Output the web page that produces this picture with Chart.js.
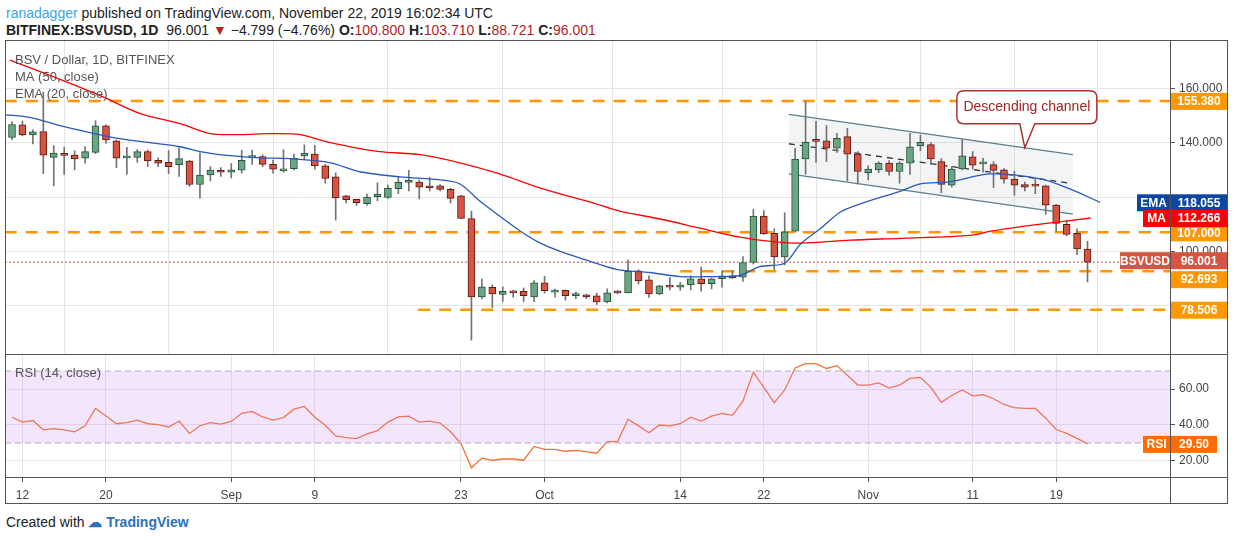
<!DOCTYPE html>
<html>
<head>
<meta charset="utf-8">
<script src="https://cdn.jsdelivr.net/npm/chart.js@4"></script>
<style>
  body { margin: 0; background: #fff; width: 1234px; height: 540px; position: relative; overflow: hidden;
         font-family: "Liberation Sans Narrow", "Liberation Sans", Arial, sans-serif; }
  .abs { position: absolute; }
  #head1 { left: 6px; top: 5px; font-size: 14px; color: #222; }
  #head2 { left: 6px; top: 22px; font-size: 14px; color: #222; }
  #head2 b { font-weight: bold; }
  .r { color: #b21f1f; }
  .frame { position: absolute; border: 1px solid #555; box-sizing: border-box; }
  #foot { left: 6px; top: 514px; font-size: 14px; color: #222; }
  #foot span { color: #2a72b8; font-weight: bold; }
</style>
</head>
<body>
<div id="head1" class="abs"><span style="color:#3ea4e0">ranadagger</span> published on TradingView.com, November 22, 2019 16:02:34 UTC</div>
<div id="head2" class="abs"><b>BITFINEX:BSVUSD, 1D</b>&nbsp; 96.001 <span class="r">▼</span> −4.799 (−4.76%) <b>O:</b><span class="r">100.800</span> <b>H:</b><span class="r">103.710</span> <b>L:</b><span class="r">88.721</span> <b>C:</b><span class="r">96.001</span></div>

<div class="abs" style="left:0;top:40px;width:1234px;height:314px"><canvas id="price" width="1234" height="314"></canvas></div>
<div class="abs" style="left:0;top:355px;width:1234px;height:150px"><canvas id="rsi" width="1234" height="150"></canvas></div>

<div class="frame" style="left:5px;top:40px;width:1223px;height:464px"></div>
<div class="frame" style="left:5px;top:354px;width:1223px;height:1px;border-width:1px 0 0 0"></div>
<div class="frame" style="left:5px;top:477px;width:1223px;height:1px;border-width:1px 0 0 0"></div>
<div class="frame" style="left:1170px;top:40px;width:1px;height:464px;border-width:0 0 0 1px"></div>

<div id="foot" class="abs">Created with <span>☁ TradingView</span></div>

<script>
// day index 0 = Aug 11 2019
const opens  = [141.9,146.6,142.9,144.1,134.6,135.8,135.4,134.3,136.4,146.2,140.7,134.4,134.6,136.7,133.5,132.8,131.9,133.2,124.6,128.1,129.8,129.1,129.9,134.5,134.9,132,129.6,130.4,135.1,135.8,131.5,127.4,120.4,119.1,117.5,120.1,119.8,123.1,125.4,125.5,123.8,124.1,122.8,120.4,112.1,83.2,86.7,84.1,85.3,85.3,83.2,88.4,85,85.6,83.7,84,83.6,81.4,85.1,84.7,92.8,89.5,84.3,87.2,86.8,87.7,89.9,88.1,89.9,91,90.5,95.9,113,106.6,97.9,107.4,134,140.9,140.7,138,142.2,135.8,129,130,132.5,129.4,132.5,138.8,139.3,133,124.4,130.3,134.8,132.2,131.9,130,126.6,124.6,124.6,124.1,117,109.9,106.6,100.8];
const highs  = [147.8,148,144.7,158.6,138.9,138.3,137,138.6,148.1,146.6,141,138.3,137.5,137.3,134.4,137.1,138.1,133.5,136.3,131.2,130.8,132.3,137.2,137.2,135.5,133.6,137.4,135.8,139.2,139,132,128.9,120.6,119.1,121.1,125.2,124.4,127.5,129.8,126.3,127.2,124.6,123.2,120.6,114.8,89.8,87.7,86.9,85.7,86.5,89.2,90.8,86.1,85.8,85,84.2,84.6,86.2,85.5,96.9,93.2,91,87.5,90.3,88.6,91,94.2,90.2,92.8,92.8,98.1,115.4,115,108.3,114.2,137.9,155.2,147.9,146.3,143.4,145.3,136.7,131.5,133,133.4,133,143.4,142.8,140,134.2,131.2,141.2,136.7,134.2,133,130.5,129.4,125.5,126.6,124.4,117.3,111.3,108.3,103.71];
const lows   = [141.1,142.5,139.5,128.6,124.1,128.3,130,132.5,136,139.7,130.8,128.3,132.8,131.2,131.2,128.6,127.6,123.9,119.6,125.9,127.6,127,128.8,132,131.2,128.8,129.1,130,133.8,130.2,125.1,111.5,117.8,116.9,117,118.6,119.5,121.2,122.2,119.3,122.2,122.2,117.8,112,67.3,82.5,79.3,81.5,83.1,81.5,81.5,84.6,83.1,82,82.6,82.6,80.4,81,84.4,84.7,87.9,83,84,85.8,85.6,85.8,85.3,86.2,86.8,90,88.9,95.3,106.2,93.3,95,107,128.4,132.7,133,136.4,125.9,124.8,126.3,129,128,125.1,128.3,137,132,121.6,123.7,130,130.3,129.1,123.5,125.1,120.6,122.2,121.2,113.6,107.3,105.7,98.8,88.721];
const closes = [146.7,142.9,144,135.4,136.2,135.3,134,136.7,146.2,141,134.3,134.8,136.7,133.3,132.5,131.2,134.1,124.6,128.1,129.9,129.1,130,133.5,134.9,132,130.2,130.2,134.3,136.2,131.4,126.8,119.7,119,117.9,120,121.1,123.2,125.4,125.7,123.6,123.4,122.8,119.5,112.1,83.2,86.9,84.3,85.3,84.7,83.7,88.4,85.5,85.6,83.7,84,83.2,81.4,84.7,84.7,92.6,89.1,84.3,87.3,86.8,87.6,89.9,88.1,89.9,91,90.2,95.9,113,106.4,97.9,107.2,134,140.1,140.5,138,141.6,135.8,129.4,130.3,132.5,129.4,132.5,138.5,140.1,134,124.6,130.3,135.2,131.7,132.6,129.8,126.6,124.4,123.6,124,117,110.3,106.2,100.9,96.001];
const rsi = [44.3,41.6,42.5,37.3,38,37.3,36.2,39.6,49.2,45,40.7,41.3,42.7,40.7,40.2,38.9,42.2,35.3,39.6,41.3,40.5,42,46.5,47.6,44.5,42.7,44.1,48.8,50.3,44.3,39.8,33.9,33,32.4,35.1,36.9,41.6,44.5,44.9,41.6,42.2,41.1,36.2,29.7,16.2,21.6,20.4,21.1,21.1,20.4,28.1,26.5,26.5,25.4,25.9,25.2,24.3,30.8,30.8,43.2,39.5,35.7,40,39.5,40.7,44.3,42.2,44.9,46.5,45.4,53.2,69.4,60.9,52.4,59.5,71.7,74.1,74.1,71.4,73,67.7,62.2,62.2,63.4,60.5,62.2,65.9,66.5,60.9,52.6,56.4,59.5,56.2,56.8,54.6,51.4,49.7,49.2,49.2,43.8,37.5,35.3,32.6,29.5];

// moving averages at sample days
const maDays  = [-0.2,4.6,8.4,12.3,16.1,19,21.8,24.7,27.6,29.8,31.9,35.2,39.1,42.9,46.7,50.6,55.4,58.2,62.1,65.9,69.7,72.6,75.5,80.3,85.1,91.8,93.7,98.5,103.3];
const maVals  = [170.4,163.3,157.4,150.7,147,143.3,143,143.3,143,140.7,138.9,136.7,135.6,132.6,128.5,123.3,118.1,114.8,111.9,108.5,105.2,103.7,103,104.1,104.8,105.9,107.4,110,112.266];
const emaDays = [-1.1,1.7,4.6,7.5,10.3,13.2,16.1,18,20.9,23.8,26.6,30.5,33.3,37.2,41,42.9,44.8,46.7,48.7,50.6,52.5,55.4,58,61.1,64,66.9,69.7,71.6,74,75.5,77.4,79.3,81.2,85.1,87,89.8,93.7,98.5,101.3,104.2];
const emaVals = [150.4,149.3,146.3,143.7,141.5,140,138.5,136.7,135.2,134.4,134.1,132.6,129.3,127.4,126.3,124.8,118.5,113,107.4,103,100,96.3,93.3,92.2,90.7,90.7,91.1,94.4,95.6,102.6,108.3,114.4,117.4,122.2,124.8,125.6,128.5,126.7,123,118.055];

const levels      = [155.38, 107.0, 92.693, 78.506];
const levelStarts = [-0.7, -0.7, 64, 38.9];
const lastPrice = 96.001;
const channelDays  = [74.4, 101.6];
const channelUpper = [150.4, 135.6];
const channelLower = [128.5, 113.7];
const channelMid   = [139.6, 125.2];
const midDays      = [74.4, 101.1];

const tickDays   = [1, 9, 21, 29, 43, 51, 64, 72, 82, 92, 100];
const tickLabels = ['12', '20', 'Sep', '9', '23', 'Oct', '14', '22', 'Nov', '11', '19'];
const xMin = -0.67, xMax = 110.9;

const UP = '#6ba583', UPB = '#225437', DN = '#d75442', DNB = '#5b1a13';
const ORANGE = '#ff9800';

const idx = opens.map((_, i) => i);
const isUp = idx.map(i => closes[i] >= opens[i]);
const pts = (xs, ys) => xs.map((x, i) => ({ x: x, y: ys[i] }));
const flat = (a, b, v) => [{ x: a, y: v }, { x: b, y: v }];

function tag(ctx, x, y, w, text, bg) {
  ctx.fillStyle = bg;
  ctx.fillRect(x, y - 8, w, 17);
  ctx.fillStyle = '#fff';
  ctx.font = 'bold 12px "Liberation Sans", Arial';
  ctx.textAlign = 'center';
  ctx.textBaseline = 'middle';
  ctx.fillText(text, x + w / 2, y + 1);
}

const priceOverlay = {
  id: 'priceOverlay',
  afterDraw(chart) {
    const ctx = chart.ctx, y = chart.scales.y, x = chart.scales.x;
    ctx.save();
    ctx.font = '13px "Liberation Sans", Arial';
    ctx.fillStyle = '#555';
    ctx.textAlign = 'left';
    ctx.textBaseline = 'middle';
    ctx.fillText('BSV / Dollar, 1D, BITFINEX', 15, 20);
    ctx.fillText('MA (50, close)', 15, 37);
    ctx.fillText('EMA (20, close)', 15, 54);
    // callout
    const px = x.getPixelForValue(97), py = y.getPixelForValue(138.1);
    const bx = px - 68, by = py - 57, bw = 140, bh = 33;
    ctx.beginPath();
    const r = 7;
    ctx.moveTo(bx + r, by);
    ctx.lineTo(bx + bw - r, by); ctx.quadraticCurveTo(bx + bw, by, bx + bw, by + r);
    ctx.lineTo(bx + bw, by + bh - r); ctx.quadraticCurveTo(bx + bw, by + bh, bx + bw - r, by + bh);
    ctx.lineTo(px + 10, by + bh); ctx.lineTo(px, py); ctx.lineTo(px - 5, by + bh);
    ctx.lineTo(bx + r, by + bh); ctx.quadraticCurveTo(bx, by + bh, bx, by + bh - r);
    ctx.lineTo(bx, by + r); ctx.quadraticCurveTo(bx, by, bx + r, by);
    ctx.closePath();
    ctx.fillStyle = '#fff'; ctx.fill();
    ctx.strokeStyle = '#a83232'; ctx.lineWidth = 1.5; ctx.stroke();
    ctx.fillStyle = '#a32424';
    ctx.font = '14px "Liberation Sans", Arial';
    ctx.textAlign = 'center';
    ctx.fillText('Descending channel', bx + bw / 2, by + bh / 2);
    // axis tags (92.693 nudged down so it clears the last-price tag)
    const ax = 1171, aw = 56;
    levels.forEach(v => tag(ctx, ax, y.getPixelForValue(v) + (v === 92.693 ? 8 : 0), aw, v.toFixed(3), ORANGE));
    tag(ctx, ax, y.getPixelForValue(118.055), aw, '118.055', '#0d47a1');
    tag(ctx, 1137, y.getPixelForValue(118.055), 33, 'EMA', '#0d47a1');
    tag(ctx, ax, y.getPixelForValue(112.266), aw, '112.266', '#ff0000');
    tag(ctx, 1143, y.getPixelForValue(112.266), 27, 'MA', '#ff0000');
    tag(ctx, ax, y.getPixelForValue(lastPrice) - 2, aw, lastPrice.toFixed(3), DN);
    tag(ctx, 1120, y.getPixelForValue(lastPrice) - 2, 50, 'BSVUSD', DN);
    ctx.restore();
  }
};

const rsiOverlay = {
  id: 'rsiOverlay',
  afterDraw(chart) {
    const ctx = chart.ctx, y = chart.scales.y;
    ctx.save();
    ctx.font = '13px "Liberation Sans", Arial';
    ctx.fillStyle = '#555';
    ctx.textAlign = 'left';
    ctx.textBaseline = 'middle';
    ctx.fillText('RSI (14, close)', 15, 18);
    tag(ctx, 1171, y.getPixelForValue(29.5), 46, '29.50', '#ff6d00');
    tag(ctx, 1143, y.getPixelForValue(29.5), 27, 'RSI', '#ff6d00');
    ctx.restore();
  }
};

const xScale = (showTicks) => ({
  type: 'linear', min: xMin, max: xMax, offset: false,
  afterBuildTicks: s => { s.ticks = tickDays.map(v => ({ value: v })); },
  afterFit: s => { s.height = showTicks ? 28 : 0; s.paddingLeft = 0; s.paddingRight = 0; },
  ticks: {
    display: showTicks, color: '#444', font: { size: 12, family: '"Liberation Sans", Arial' },
    autoSkip: false, maxRotation: 0, padding: 6,
    callback: v => tickLabels[tickDays.indexOf(v)]
  },
  grid: { color: '#e6e6e6', drawTicks: showTicks, tickLength: 5, tickColor: '#555' },
  border: { display: false }
});

const yScale = (min, max, tickVals, fmt, hidden) => ({
  position: 'right', min: min, max: max,
  afterBuildTicks: s => { s.ticks = tickVals.map(v => ({ value: v })); },
  afterFit: s => { s.width = 64; s.paddingTop = 0; s.paddingBottom = 0; },
  ticks: {
    color: '#444', font: { size: 12, family: '"Liberation Sans", Arial' }, padding: 4,
    callback: v => hidden.includes(v) ? '' : fmt(v)
  },
  grid: { color: '#e6e6e6', tickLength: 5, tickColor: '#555' },
  border: { display: false }
});

const line = (data, color, extra) => Object.assign({
  type: 'line', data: data, borderColor: color, borderWidth: 1.3, pointRadius: 0, fill: false, tension: 0.3
}, extra || {});

new Chart(document.getElementById('price'), {
  type: 'bar',
  data: {
    datasets: [
      line(pts(channelDays, channelUpper), '#5b7f8a', { fill: '+1', backgroundColor: 'rgba(120,135,160,0.09)', order: 10, tension: 0 }),
      line(pts(channelDays, channelLower), '#5b7f8a', { order: 10, tension: 0 }),
      line(pts(midDays, channelMid), '#333', { borderDash: [6, 5], order: 9, tension: 0 }),
      ...levels.map((v, i) => line(flat(levelStarts[i], xMax, v), ORANGE, { borderWidth: 2.5, borderDash: [12, 9], order: 8, tension: 0 })),
      line(flat(xMin, xMax, lastPrice), DN, { borderWidth: 1, borderDash: [2, 2], order: 8, tension: 0 }),
      {
        data: idx.map(i => ({ x: i, y: [lows[i], highs[i]] })),
        backgroundColor: '#737375', barThickness: 1, grouped: false, order: 4
      },
      {
        data: idx.map(i => ({ x: i, y: [opens[i], closes[i]] })),
        backgroundColor: idx.map(i => isUp[i] ? UP : DN),
        borderColor: idx.map(i => isUp[i] ? UPB : DNB),
        borderWidth: 1, borderSkipped: false, barThickness: 7, minBarLength: 2, grouped: false, order: 3
      },
      line(pts(maDays, maVals), '#ff0000', { order: 1 }),
      line(pts(emaDays, emaVals), '#2958c2', { order: 1 })
    ]
  },
  options: {
    responsive: false, animation: false, events: [],
    layout: { padding: { left: 5, right: 0, top: 0, bottom: 0 } },
    plugins: { legend: { display: false }, tooltip: { enabled: false } },
    scales: {
      x: xScale(false),
      y: yScale(62.2, 177.8, [80, 100, 120, 140, 160], v => v.toFixed(3), [80, 120])
    }
  },
  plugins: [priceOverlay]
});

new Chart(document.getElementById('rsi'), {
  type: 'line',
  data: {
    datasets: [
      line(flat(xMin, xMax, 70), '#b7a9c4', { borderDash: [6, 4], borderWidth: 1, fill: '+1', backgroundColor: 'rgba(200,140,240,0.22)', tension: 0 }),
      line(flat(xMin, xMax, 30), '#b7a9c4', { borderDash: [6, 4], borderWidth: 1, tension: 0 }),
      line(pts(idx, rsi), '#f7712c', { tension: 0 })
    ]
  },
  options: {
    responsive: false, animation: false, events: [],
    layout: { padding: { left: 5, right: 0, top: 0, bottom: 0 } },
    plugins: { legend: { display: false }, tooltip: { enabled: false } },
    scales: {
      x: xScale(true),
      y: yScale(11.1, 78.9, [20, 40, 60], v => v.toFixed(2), [])
    }
  },
  plugins: [rsiOverlay]
});
</script>
</body>
</html>
